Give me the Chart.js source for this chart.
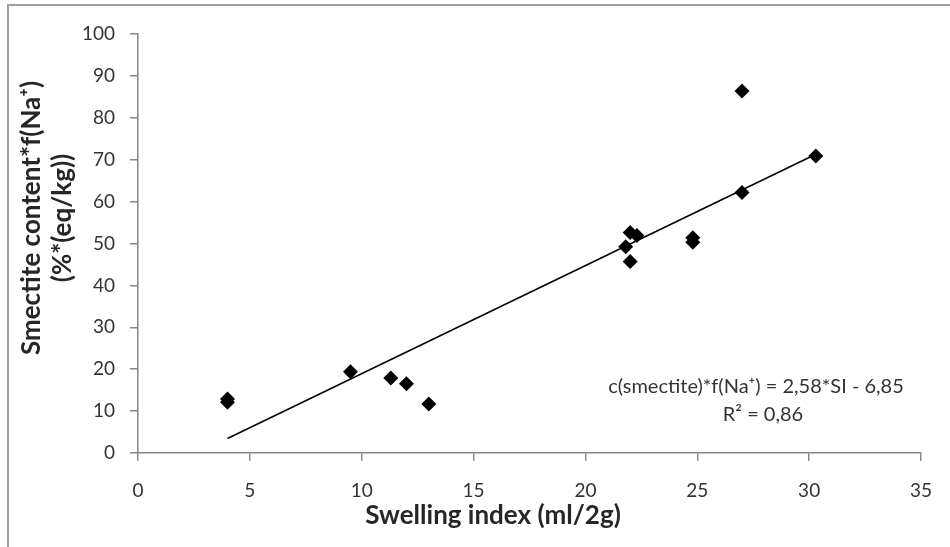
<!DOCTYPE html>
<html>
<head>
<meta charset="utf-8">
<script src="https://cdn.jsdelivr.net/npm/chart.js@4"></script>
<style>
  html, body { margin: 0; padding: 0; background: #fff; }
  #wrap { width: 950px; height: 547px; }
</style>
</head>
<body>
<div id="wrap"><canvas id="scatterChart" width="950" height="547"></canvas></div>
<script>
const swellingIndex = [4, 4, 9.5, 11.3, 12, 13, 21.8, 22, 22.3, 22, 24.8, 24.8, 27, 27, 30.3];
const smectiteContent = [12.9, 12.1, 19.4, 17.9, 16.5, 11.7, 49.2, 52.6, 51.9, 45.7, 51.4, 50.3, 86.4, 62.2, 70.9];

// Trend line end points as drawn
const trendX = [4, 30.3];
const trendY = [3.47, 71.3];

// Axis ranges / ticks
const xTicks = { min: 0, max: 35, step: 5 };
const yTicks = { min: 0, max: 100, step: 10 };

const xTitle = 'Swelling index (ml/2g)';
const yTitle = ['Smectite content*f(Na\u207A)', '(%*(eq/kg))'];
const equationText = ['c(smectite)*f(Na\u207A) = 2,58*SI - 6,85', 'R\u00B2 = 0,86'];

const axisGray = '#868686';
const labelColor = '#333333';
const fontFamily = 'Lato, "Open Sans", sans-serif';

const toPoints = (xs, ys) => xs.map((x, i) => ({ x: x, y: ys[i] }));

// Frame, axis titles and regression text
const decorPlugin = {
    id: 'decor',
    beforeDraw(chart) {
        const ctx = chart.ctx;
        ctx.save();
        ctx.strokeStyle = '#a0a0a0';
        ctx.lineWidth = 2;
        ctx.beginPath();
        ctx.moveTo(8, 547);
        ctx.lineTo(8, 5);
        ctx.lineTo(950, 5);
        ctx.stroke();
        ctx.restore();
    },
    afterDraw(chart) {
        const ctx = chart.ctx;
        ctx.save();
        ctx.fillStyle = '#262626';
        ctx.textAlign = 'center';
        ctx.textBaseline = 'middle';

        // x title
        ctx.font = 'bold 26px ' + fontFamily;
        ctx.fillText(xTitle, 493, 516);

        // y title, rotated
        ctx.save();
        ctx.translate(47, 218);
        ctx.rotate(-Math.PI / 2);
        ctx.fillText(yTitle[0], 0, -15);
        ctx.fillText(yTitle[1], 0, 16);
        ctx.restore();

        // regression equation
        ctx.fillStyle = labelColor;
        ctx.font = '20px ' + fontFamily;
        ctx.fillText(equationText[0], 756, 387);
        ctx.fillText(equationText[1], 763, 415);
        ctx.restore();
    }
};

const ctx = document.getElementById('scatterChart').getContext('2d');
const chart = new Chart(ctx, {
    type: 'scatter',
    data: {
        datasets: [
            {
                label: 'samples',
                data: toPoints(swellingIndex, smectiteContent),
                pointStyle: 'rectRot',
                pointRadius: 7.5,
                pointHoverRadius: 7.5,
                backgroundColor: '#000',
                borderColor: '#000',
                borderWidth: 0
            },
            {
                type: 'line',
                label: 'trend',
                data: toPoints(trendX, trendY),
                borderColor: '#000',
                borderWidth: 1.5,
                pointRadius: 0,
                fill: false
            }
        ]
    },
    options: {
        responsive: false,
        animation: false,
        layout: { padding: { top: 34, right: 20, bottom: 0, left: 0 } },
        plugins: {
            legend: { display: false },
            tooltip: { enabled: false }
        },
        scales: {
            x: {
                type: 'linear',
                min: xTicks.min,
                max: xTicks.max,
                ticks: {
                    stepSize: xTicks.step,
                    color: labelColor,
                    font: { family: fontFamily, size: 19 },
                    padding: 18,
                    maxRotation: 0
                },
                grid: { drawOnChartArea: false, tickLength: 8, color: axisGray, lineWidth: 1.5 },
                border: { color: axisGray, width: 1.5 },
                afterFit: (scale) => { scale.height = 94; }
            },
            y: {
                min: yTicks.min,
                max: yTicks.max,
                ticks: {
                    stepSize: yTicks.step,
                    color: labelColor,
                    font: { family: fontFamily, size: 19 },
                    padding: 15
                },
                grid: { drawOnChartArea: false, tickLength: 8, color: axisGray, lineWidth: 1.5 },
                border: { color: axisGray, width: 1.5 },
                afterFit: (scale) => { scale.width = 138; }
            }
        }
    },
    plugins: [decorPlugin]
});
</script>
</body>
</html>
